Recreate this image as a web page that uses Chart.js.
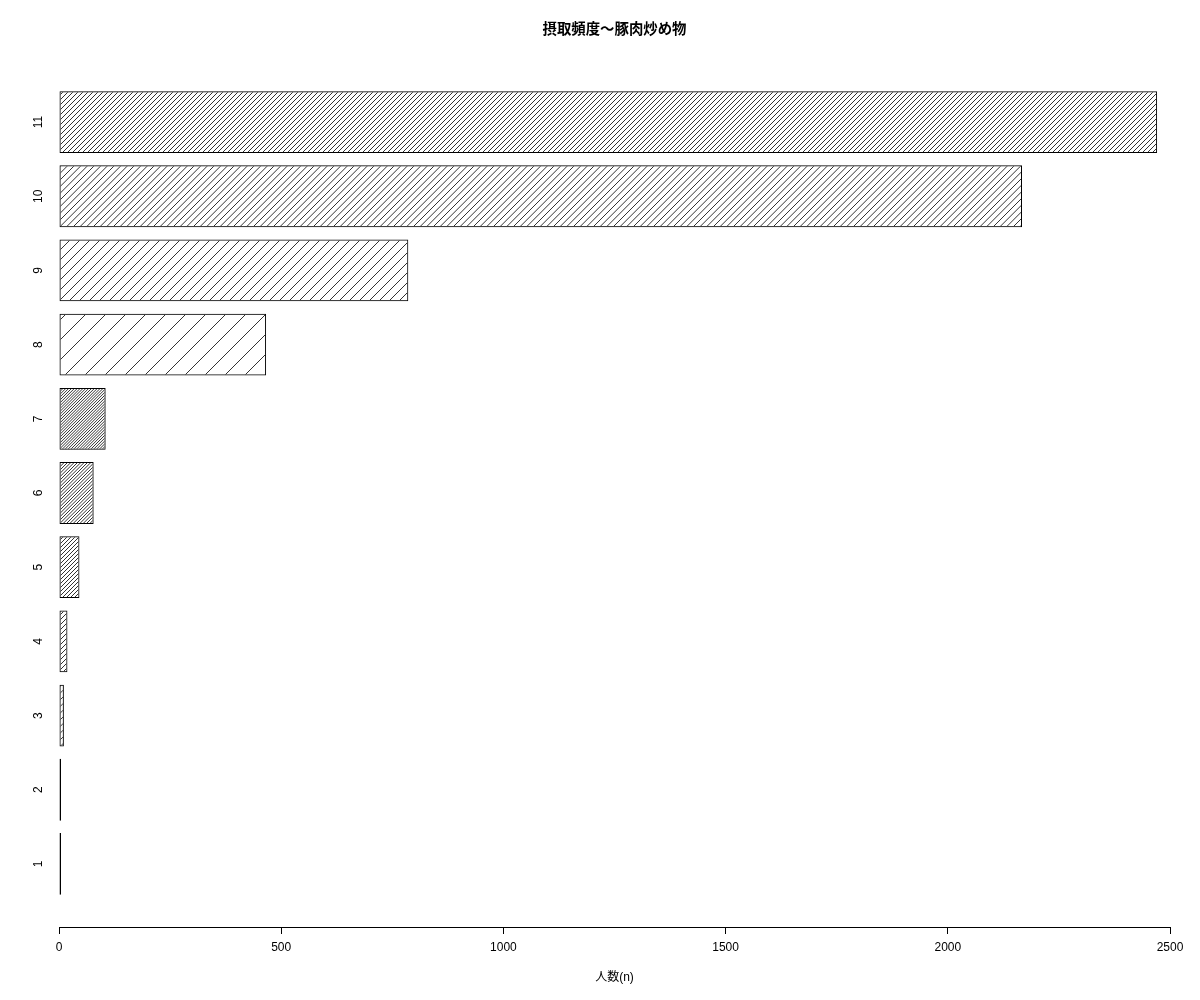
<!DOCTYPE html>
<html lang="ja">
<head>
  <meta charset="UTF-8">
  <title>摂取頻度～豚肉炒め物</title>
  <script src="https://cdn.jsdelivr.net/npm/chart.js@4"></script>
  <style>
    body { margin: 0; background: #fff; }
    #wrap { width: 1200px; height: 1000px; }
  </style>
</head>
<body>
  <div id="wrap"><canvas id="chart" width="1200" height="1000"></canvas></div>

  <script>
    // 摂取頻度カテゴリ (下から上の順)
    const categories = ['1', '2', '3', '4', '5', '6', '7', '8', '9', '10', '11'];
    const counts = [1, 3, 11, 19, 46, 78, 105, 466, 786, 2167, 2471];
    const xTicks = [0, 500, 1000, 1500, 2000, 2500];
    const chartTitle = '摂取頻度～豚肉炒め物';
    const xTitle = '人数(n)';

    // 斜線の密度 (1インチあたりの本数)
    const hatchDensity = [5, 10, 15, 20, 25, 30, 35, 5, 10, 15, 20];

    // barplot風の配置: 幅1, 間隔0.2
    const space = 0.2;
    const positions = categories.map((c, i) => space + i * (1 + space) + 0.5);
    const span = categories.length * (1 + space) - space;
    const yMin = space - span * 0.04;
    const yMax = space + span + span * 0.04;

    const tickFont = { family: "'Liberation Sans', Arial, sans-serif", size: 12 };

    function hatch(density) {
      const step = 72 / density * Math.SQRT2;
      const size = 60;
      const n = Math.max(1, Math.round(size / step));
      const gap = size / n;
      const c = document.createElement('canvas');
      c.width = size;
      c.height = size;
      const g = c.getContext('2d');
      g.strokeStyle = '#333';
      g.lineWidth = 1;
      g.beginPath();
      for (let k = 0; k <= 2 * n; k++) {
        const d = k * gap;
        g.moveTo(d + 2, -2);
        g.lineTo(d - size - 2, size + 2);
      }
      g.stroke();
      return g.createPattern(c, 'repeat');
    }

    Chart.defaults.color = '#000';

    new Chart(document.getElementById('chart'), {
      type: 'bar',
      data: {
        datasets: [{
          data: counts.map((v, i) => ({ x: v, y: positions[i] })),
          backgroundColor: hatchDensity.map(hatch),
          borderColor: '#000',
          borderWidth: 1,
          borderSkipped: false,
          categoryPercentage: 1,
          barPercentage: 1 / (1 + space),
          minBarLength: 2
        }]
      },
      options: {
        indexAxis: 'y',
        responsive: false,
        animation: false,
        layout: { padding: { left: 0, right: 30, top: 0, bottom: 0 } },
        plugins: {
          legend: { display: false },
          tooltip: { enabled: false },
          title: {
            display: true,
            text: chartTitle,
            fullSize: false,
            color: '#000',
            font: { family: "'Noto Sans CJK JP', sans-serif", size: 14.4, weight: 'bold' },
            padding: { top: 20, bottom: 21.7 }
          }
        },
        scales: {
          x: {
            type: 'linear',
            min: 0,
            max: 2500,
            afterBuildTicks: s => { s.ticks = xTicks.map(v => ({ value: v })); },
            afterFit: s => { s.height = 73; },
            grid: { display: true, drawOnChartArea: false, drawTicks: true, tickLength: 7, color: '#000' },
            border: { display: true, color: '#000', width: 1 },
            ticks: { font: tickFont, padding: 6, maxRotation: 0, callback: v => String(v) },
            title: {
              display: true,
              text: xTitle,
              font: { family: "'Liberation Sans', 'Noto Sans CJK JP', sans-serif", size: 12 },
              padding: { top: 0, bottom: 15 }
            }
          },
          y: {
            type: 'linear',
            min: yMin,
            max: yMax,
            offset: false,
            afterBuildTicks: s => { s.ticks = positions.map(v => ({ value: v })); },
            afterFit: s => { s.width = 59; },
            grid: { display: false, offset: false },
            border: { display: false },
            ticks: {
              font: tickFont,
              autoSkip: false,
              minRotation: 90,
              maxRotation: 90,
              crossAlign: 'center',
              padding: 6,
              callback: (v, i) => categories[i]
            }
          }
        }
      }
    });
  </script>
</body>
</html>
